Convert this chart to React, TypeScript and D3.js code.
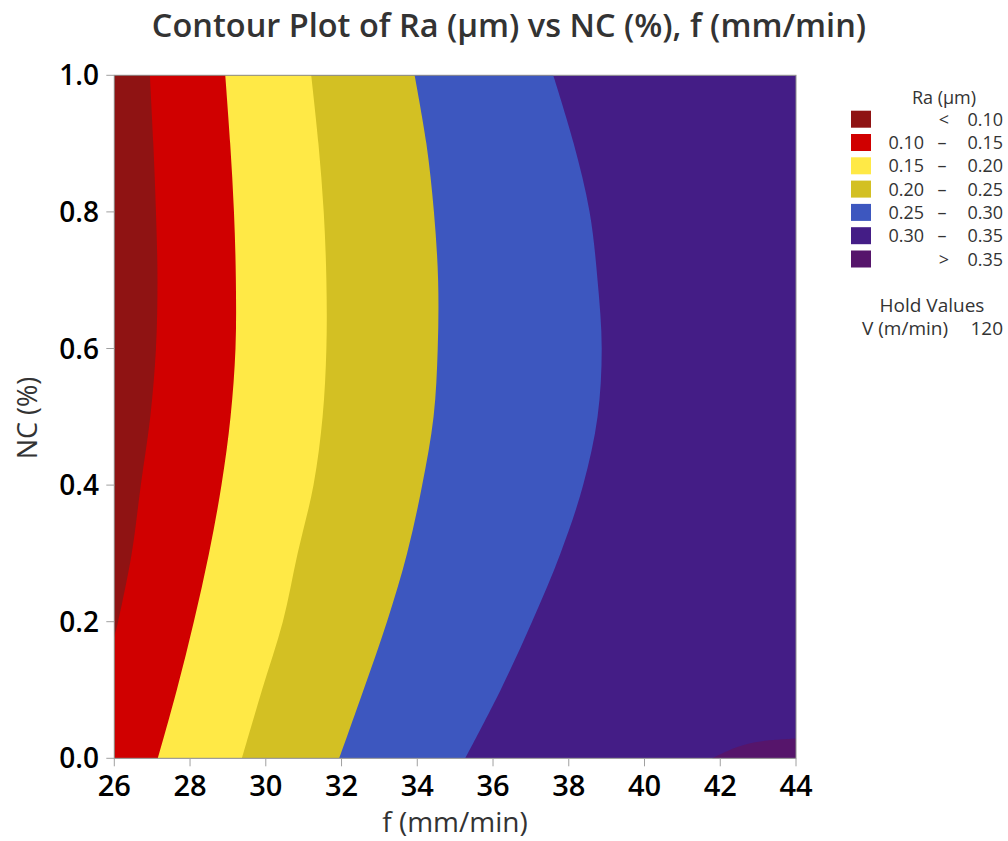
import React from "react";
import * as d3 from "d3";

// ---- Data ----
const xTicks = [26, 28, 30, 32, 34, 36, 38, 40, 42, 44];
const yTicks = [0.0, 0.2, 0.4, 0.6, 0.8, 1.0];

const legendLabels = ["0.10", "0.15", "0.20", "0.25", "0.30", "0.35"];
const bandColors = ["#8F1313", "#D00000", "#FFE946", "#D3C023", "#3D57BF", "#441D86", "#56156B"];

// Contour boundary lines: NC values and matching f values
const ncGrid = [1.0, 0.9, 0.8, 0.7, 0.6, 0.5, 0.4, 0.3, 0.2, 0.1, 0.0];
const ncB010 = [1.0, 0.9, 0.8, 0.7, 0.6, 0.5, 0.4, 0.3, 0.2, 0.178];
const fB010 = [26.94, 27.03, 27.1, 27.14, 27.1, 26.95, 26.7, 26.46, 26.1, 26.0];
const fB015 = [28.93, 29.06, 29.16, 29.21, 29.2, 29.07, 28.83, 28.5, 28.1, 27.65, 27.15];
const fB020 = [31.2, 31.39, 31.53, 31.6, 31.6, 31.5, 31.26, 30.84, 30.45, 29.9, 29.37];
const fB025 = [33.93, 34.24, 34.44, 34.55, 34.54, 34.43, 34.13, 33.73, 33.2, 32.58, 31.94];
const fB030 = [37.59, 38.13, 38.55, 38.76, 38.87, 38.76, 38.38, 37.78, 37.03, 36.2, 35.27];
// >0.35 region boundary (f, NC) near bottom-right
const fB035 = [41.79, 42.36, 42.8, 43.25, 44.0];
const ncB035 = [0.0, 0.0146, 0.022, 0.026, 0.029];

const W = 1008;
const H = 841;
const left = 114.3, right = 796, top = 75.3, bottom = 758.3;

export default function App() {
  const x = d3.scaleLinear().domain([26, 44]).range([left, right]);
  const y = d3.scaleLinear().domain([0, 1]).range([bottom, top]);

  const boundaries: { nc: number[]; f: number[]; color: string }[] = [
    { nc: ncGrid, f: fB030, color: bandColors[4] },
    { nc: ncGrid, f: fB025, color: bandColors[3] },
    { nc: ncGrid, f: fB020, color: bandColors[2] },
    { nc: ncGrid, f: fB015, color: bandColors[1] },
    { nc: ncB010, f: fB010, color: bandColors[0] },
  ];

  const smooth = d3
    .line<[number, number]>()
    .x((d) => d[0])
    .y((d) => d[1])
    .curve(d3.curveCatmullRom.alpha(0.5));

  const leftRegion = (nc: number[], f: number[]) => {
    const pts: [number, number][] = nc.map((v, i) => [x(f[i]), y(v)]);
    const p = smooth(pts) as string;
    const lastNc = nc[nc.length - 1];
    return `${p}L${x(25)},${y(lastNc)}L${x(25)},${y(1.05)}L${x(f[0])},${y(1.05)}Z`;
  };

  const hiPts: [number, number][] = fB035.map((v, i) => [x(v), y(ncB035[i])]);
  const hiPath = `${smooth(hiPts)}L${x(44.5)},${y(ncB035[ncB035.length - 1])}L${x(44.5)},${y(-0.05)}L${x(fB035[0])},${y(-0.05)}Z`;

  const font = "'Open Sans', 'Noto Sans', sans-serif";
  const rowY = (i: number) => 119.2 + i * 23.3;
  const lf = 18;

  return (
    <svg
      width={W}
      height={H}
      style={{ position: "absolute", left: 0, top: 0, background: "#fff" }}
      fontFamily={font}
    >
      <defs>
        <clipPath id="plotClip">
          <rect x={left} y={top} width={right - left} height={bottom - top} />
        </clipPath>
      </defs>

      {/* Title */}
      <text x={509} y={37} textAnchor="middle" fontSize={32.5} fill="#333" fontWeight={600}>
        Contour Plot of Ra (µm) vs NC (%), f (mm/min)
      </text>

      {/* Filled contours */}
      <g clipPath="url(#plotClip)">
        <rect x={left} y={top} width={right - left} height={bottom - top} fill={bandColors[5]} />
        {boundaries.map((b, i) => (
          <path key={i} d={leftRegion(b.nc, b.f)} fill={b.color} />
        ))}
        <path d={hiPath} fill={bandColors[6]} />
      </g>

      {/* Frame */}
      <rect x={left} y={top} width={right - left} height={bottom - top} fill="none" stroke="#8c8c8c" strokeWidth={1} />

      {/* X axis ticks */}
      {xTicks.map((t) => (
        <g key={t}>
          <line x1={x(t)} x2={x(t)} y1={bottom} y2={bottom + 8} stroke="#a0a0a0" strokeWidth={1} />
          <text x={x(t)} y={796} textAnchor="middle" fontSize={29} fontWeight={600} fill="#000">
            {t}
          </text>
        </g>
      ))}

      {/* Y axis ticks */}
      {yTicks.map((t) => (
        <g key={t}>
          <line x1={left - 8} x2={left} y1={y(t)} y2={y(t)} stroke="#a0a0a0" strokeWidth={1} />
          <text x={99} y={y(t) + 10} textAnchor="end" fontSize={28} fontWeight={600} fill="#000">
            {t.toFixed(1)}
          </text>
        </g>
      ))}

      {/* Axis titles */}
      <text x={455} y={832} textAnchor="middle" fontSize={28} fill="#333">
        f (mm/min)
      </text>
      <text
        transform={`translate(37,418) rotate(-90)`}
        textAnchor="middle"
        fontSize={27}
        fill="#333"
      >
        NC (%)
      </text>

      {/* Legend */}
      <text x={944} y={104} textAnchor="middle" fontSize={lf} fill="#333">
        Ra (µm)
      </text>
      {bandColors.map((c, i) => {
        const cy = rowY(i);
        const by = cy + 6.5;
        return (
          <g key={i}>
            <rect x={851} y={cy - 8.5} width={20} height={17} fill={c} />
            {i === 0 && (
              <>
                <text x={944} y={by} textAnchor="middle" fontSize={lf} fill="#333">{"<"}</text>
                <text x={1003} y={by} textAnchor="end" fontSize={lf} fill="#333">{legendLabels[0]}</text>
              </>
            )}
            {i > 0 && i < bandColors.length - 1 && (
              <>
                <text x={924} y={by} textAnchor="end" fontSize={lf} fill="#333">{legendLabels[i - 1]}</text>
                <text x={942} y={by} textAnchor="middle" fontSize={lf} fill="#333">–</text>
                <text x={1003} y={by} textAnchor="end" fontSize={lf} fill="#333">{legendLabels[i]}</text>
              </>
            )}
            {i === bandColors.length - 1 && (
              <>
                <text x={944} y={by} textAnchor="middle" fontSize={lf} fill="#333">{">"}</text>
                <text x={1003} y={by} textAnchor="end" fontSize={lf} fill="#333">{legendLabels[legendLabels.length - 1]}</text>
              </>
            )}
          </g>
        );
      })}
      <text x={932} y={312} textAnchor="middle" fontSize={19} fill="#333">
        Hold Values
      </text>
      <text x={862} y={335} textAnchor="start" fontSize={19} fill="#333">
        V (m/min)
      </text>
      <text x={1003} y={335} textAnchor="end" fontSize={19} fill="#333">
        120
      </text>
    </svg>
  );
}
